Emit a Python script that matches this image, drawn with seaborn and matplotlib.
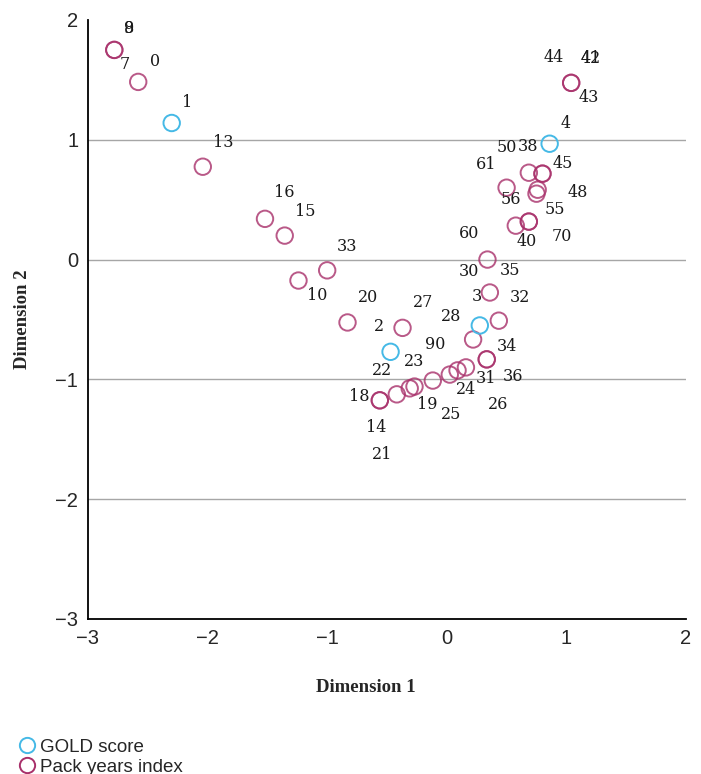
import matplotlib
matplotlib.use("Agg")
import matplotlib.pyplot as plt
from matplotlib.lines import Line2D
import pandas as pd
import seaborn as sns

# point coordinates
gold_x = [-2.30, -0.47, 0.276, 0.86]
gold_y = [1.14, -0.77, -0.55, 0.967]

pack_x = [-2.78, -2.78, -2.58, -2.04, -1.52, -1.355, -1.24, -1.00, -0.83, -0.37,
          -0.56, -0.56, -0.418, -0.31, -0.27, -0.117, 0.025, 0.09, 0.16,
          0.334, 0.334, 0.22, 0.36, 0.435, 0.34,
          0.686, 0.80, 0.80, 0.50, 0.76, 0.75, 0.577, 0.686, 0.686, 1.04, 1.04]
pack_y = [1.75, 1.75, 1.483, 0.775, 0.34, 0.20, -0.175, -0.09, -0.525, -0.57,
          -1.175, -1.175, -1.125, -1.075, -1.06, -1.01, -0.96, -0.925, -0.90,
          -0.833, -0.833, -0.667, -0.275, -0.51, 0.0,
          0.725, 0.717, 0.717, 0.60, 0.583, 0.55, 0.283, 0.317, 0.317, 1.475, 1.475]

# category labels and where they sit (data units)
labels = ["8", "9", "7", "0", "1", "13", "16", "15", "33", "10", "20", "27", "2",
          "28", "90", "23", "22", "18", "14", "21", "19", "25", "24", "31", "26",
          "36", "34", "32", "3", "30", "35", "60", "40", "70", "55", "48", "56",
          "61", "45", "50", "38", "4", "44", "41", "42", "43"]
label_x = [-2.66, -2.66, -2.69, -2.44, -2.17, -1.87, -1.355, -1.18, -0.836, -1.08,
           -0.66, -0.20, -0.57, 0.04, -0.10, -0.27, -0.54, -0.73, -0.59, -0.54,
           -0.16, 0.04, 0.16, 0.326, 0.426, 0.55, 0.50, 0.61, 0.25, 0.184, 0.527,
           0.19, 0.67, 0.96, 0.90, 1.095, 0.535, 0.326, 0.97, 0.50, 0.677, 0.995,
           0.895, 1.20, 1.20, 1.19]
label_y = [1.925, 1.925, 1.625, 1.65, 1.31, 0.98, 0.56, 0.40, 0.108, -0.30,
           -0.317, -0.358, -0.558, -0.475, -0.708, -0.85, -0.925, -1.14, -1.40, -1.625,
           -1.21, -1.29, -1.083, -0.99, -1.21, -0.975, -0.725, -0.317, -0.308, -0.10, -0.092,
           0.217, 0.15, 0.19, 0.417, 0.558, 0.50, 0.79, 0.80, 0.933, 0.94, 1.133,
           1.69, 1.675, 1.675, 1.35]

gold_color = "#45b9e6"
pack_color = "#a8306a"

df_gold = pd.DataFrame({"x": gold_x, "y": gold_y})
df_pack = pd.DataFrame({"x": pack_x, "y": pack_y})

sns.set_style("white")
plt.rcParams["font.family"] = ["Liberation Sans", "DejaVu Sans"]

fig = plt.figure(figsize=(7.01, 7.74), dpi=100)
ax = fig.add_axes([0.1255, 0.2003, 0.8531, 0.7739])

for y in [-2, -1, 0, 1]:
    ax.axhline(y, color="#a6a6a6", lw=1.0, zorder=0)

sns.scatterplot(data=df_pack, x="x", y="y", ax=ax, s=140, marker="o",
                facecolors="none", edgecolor=pack_color, linewidth=1.4,
                alpha=0.8, legend=False, zorder=3)
sns.scatterplot(data=df_gold, x="x", y="y", ax=ax, s=140, marker="o",
                facecolors="none", edgecolor=gold_color, linewidth=1.4,
                legend=False, zorder=3)

for lab, lx, ly in zip(labels, label_x, label_y):
    ax.text(lx, ly, lab, ha="center", va="center", fontsize=11.5,
            family="DejaVu Serif", color="#1a1a1a", zorder=4)

ax.set_xlim(-3, 2)
ax.set_ylim(-3, 2)
ax.set_xticks([-3, -2, -1, 0, 1, 2])
ax.set_yticks([-3, -2, -1, 0, 1, 2])
ax.set_xticklabels(["\u22123", "\u22122", "\u22121", "0", "1", "2"])
ax.set_yticklabels(["\u22123", "\u22122", "\u22121", "0", "1", "2"])
ax.tick_params(length=0, labelsize=14.5, pad=7, colors="#262626")
for side in ["top", "right"]:
    ax.spines[side].set_visible(False)
for side in ["left", "bottom"]:
    ax.spines[side].set_color("black")
    ax.spines[side].set_linewidth(1.3)

ax.set_xlabel("Dimension 1", fontsize=13.5, fontweight="bold",
              family="Liberation Serif")
ax.set_ylabel("Dimension 2", fontsize=13.5, fontweight="bold",
              family="Liberation Serif")
ax.xaxis.set_label_coords(0.465, -0.100)
ax.yaxis.set_label_coords(-0.095, 0.5)

handles = [
    Line2D([], [], marker="o", ls="none", markersize=11, markerfacecolor="none",
           markeredgecolor=gold_color, markeredgewidth=1.4, label="GOLD score"),
    Line2D([], [], marker="o", ls="none", markersize=11, markerfacecolor="none",
           markeredgecolor=pack_color, markeredgewidth=1.4, label="Pack years index"),
]
fig.legend(handles=handles, loc="center left", bbox_to_anchor=(0.028, 0.022),
           frameon=False, fontsize=13.5, handletextpad=0.3, handlelength=0.8,
           labelspacing=0.15, borderaxespad=0.0, borderpad=0.0)

fig.savefig("out.png", dpi=100)
plt.close(fig)
